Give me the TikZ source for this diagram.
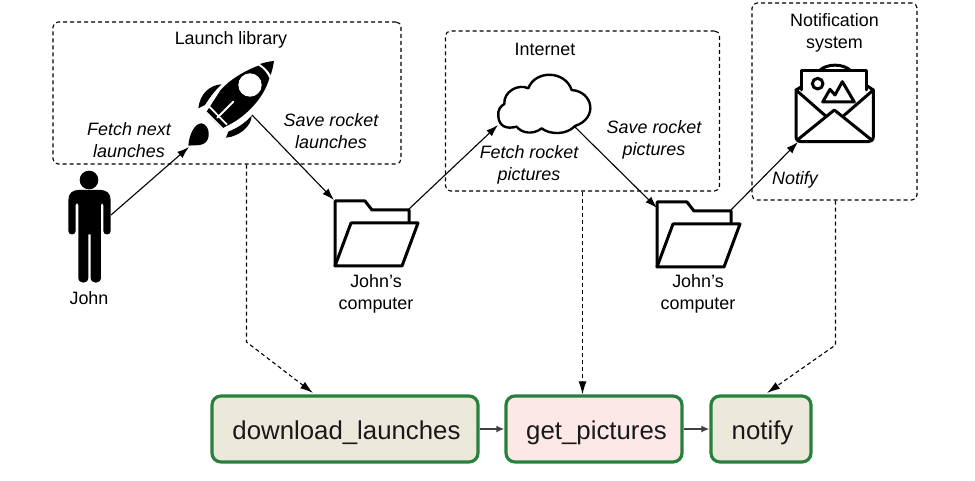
\documentclass[tikz,border=0pt]{standalone}
\usepackage{fontspec}
\setmainfont{Liberation Sans}
\usetikzlibrary{arrows.meta}
\tikzset{
  x=1pt,y=-1pt,
  lbl/.style={align=center,inner sep=0pt,font=\fontsize{17.9}{22}\selectfont},
  ilbl/.style={lbl,font=\fontsize{17.9}{22}\selectfont\itshape},
  group/.style={draw=black,line width=1.1pt,dash pattern=on 4pt off 3pt,rounded corners=5pt,inner sep=0pt},
  task/.style={draw=taskgreen,line width=3.2pt,rounded corners=9pt,inner sep=0pt,text=black!90,text height=24pt,text depth=3pt,minimum height=66pt,font=\fontsize{25.8}{28}\selectfont},
  flow/.style={draw=black,line width=1.1pt,-{Latex[length=12pt,width=8pt]}},
  depend/.style={draw=black,line width=1.1pt,dash pattern=on 4pt off 3pt,-{Latex[length=13pt,width=8pt]}},
  next/.style={draw=black!75,line width=2pt,-{Latex[length=8pt,width=7pt]}},
  icon/.style={draw=black,line width=3pt,line join=round,line cap=round},
  folderline/.style={draw=black,line width=3pt,line join=round,fill=white},
  zoomed/.style={x=0.3333pt,y=-0.3333pt},
}
\definecolor{taskgreen}{HTML}{27803B}
\definecolor{tan}{HTML}{EDE8DC}
\definecolor{pinkish}{HTML}{FDE8E8}
\newcommand{\folderic}[2]{%
  \begin{scope}[shift={(#1,#2)}]
    \draw[folderline] (0,67) -- (0,2) -- (30,2) -- (37,11) -- (74,11) -- (74,30);
    \draw[folderline] (0,67) -- (16,24) -- (83,24) -- (67,67) -- cycle;
  \end{scope}}
\begin{document}
\begin{tikzpicture}
\useasboundingbox (0,0) rectangle (975,481);
% group boxes
\node[group,minimum width=348pt,minimum height=142pt] (lib) at (227,93) {};
\node[group,minimum width=274pt,minimum height=160pt] (net) at (582.5,111) {};
\node[group,minimum width=165pt,minimum height=197pt] (sys) at (834.5,101.5) {};
% person
\begin{scope}[shift={(60,165)},zoomed]
  \fill (87,45) circle[radius=28];
  \fill (25,105) .. controls (25,85) and (38,75) .. (55,75) -- (122,75) .. controls (140,75) and (152,85) .. (152,105)
    -- (152,198) .. controls (152,212) and (130,212) .. (130,198) -- (130,120) .. controls (130,112) and (123,112) .. (123,120)
    -- (123,338) .. controls (123,358) and (92,358) .. (92,338) -- (92,208) -- (85,208) -- (85,338) .. controls (85,358) and (55,358) .. (55,338)
    -- (55,120) .. controls (55,112) and (47,112) .. (47,120) -- (47,198) .. controls (47,212) and (25,212) .. (25,198) -- cycle;
\end{scope}
% rocket
\begin{scope}[shift={(180,50)},zoomed]
  \fill (282,33) .. controls (268,34) and (252,38) .. (240,42) .. controls (255,52) and (265,62) .. (272,75) .. controls (277,60) and (280,47) .. (282,33) -- cycle;
  \fill (235,47) .. controls (195,62) and (150,88) .. (122,120) -- (78,188) -- (125,236) -- (140,228) .. controls (190,205) and (250,150) .. (268,85) .. controls (262,70) and (250,55) .. (235,47) -- cycle;
  \fill[white] (210,105) circle[radius=35];
  \draw[white,line width=2pt,line cap=round] (160,155) -- (112,203);
  \draw[white,line width=1.7pt] (88,170) -- (141,224);
  \draw[white,line width=1.7pt] (78,186) -- (128,236);
  \draw[white,line width=1.7pt] (120,115) -- (83,170);
  \fill (125,103) .. controls (90,105) and (60,130) .. (55,175) -- (75,165) .. controls (85,150) and (100,125) .. (125,103) -- cycle;
  \fill (215,197) .. controls (215,230) and (175,260) .. (138,263) -- (145,245) .. controls (170,235) and (195,220) .. (215,197) -- cycle;
  \fill (25,287) .. controls (28,250) and (45,220) .. (65,220) .. controls (90,225) and (95,270) .. (70,282) .. controls (55,288) and (40,285) .. (25,287) -- cycle;
\end{scope}
% cloud
\begin{scope}[shift={(400,20)},zoomed]
  \draw[icon,line width=2.4pt,fill=white] (295,290) .. controls (292,270) and (302,258) .. (313,252)
    .. controls (310,215) and (355,190) .. (385,205)
    .. controls (405,150) and (495,150) .. (515,210)
    .. controls (580,215) and (595,295) .. (525,318)
    .. controls (500,345) and (450,345) .. (425,325)
    .. controls (400,345) and (365,340) .. (350,320)
    .. controls (320,328) and (298,320) .. (295,290) -- cycle;
\end{scope}
% envelope
\begin{scope}[shift={(785,55)},zoomed]
    \draw[icon] (103,47) .. controls (125,25) and (175,25) .. (197,47);
    \draw[icon] (50,105) -- (50,47) -- (245,47) -- (245,105);
    \draw[icon] (98,86) circle[radius=16];
    \draw[icon] (113,141) -- (135,103) -- (150,120) -- (172,80) -- (208,141) -- cycle;
    \draw[icon] (50,95) -- (33,105) -- (33,245) .. controls (33,255) and (40,260) .. (50,260) -- (250,260) .. controls (258,260) and (265,255) .. (265,245) -- (265,105) -- (245,92);
    \draw[icon] (33,105) -- (122,183);
    \draw[icon] (265,105) -- (175,183);
    \draw[icon] (37,255) -- (148,165) -- (260,255);
\end{scope}
% folders
\folderic{335}{199}
\folderic{657}{200}
% named ends
\coordinate (johnR) at (111,215);
\coordinate (rocketIn) at (189,147);
\coordinate (rocketOut) at (252,115);
\coordinate (folderAin) at (334,200);
\coordinate (folderAout) at (409,209);
\coordinate (cloudIn) at (498,125);
\coordinate (cloudOut) at (575,127);
\coordinate (folderBin) at (657,208);
\coordinate (folderBout) at (731,210);
\coordinate (mailIn) at (798,142);
\coordinate (libBend) at (246.5,342);
\coordinate (sysBend) at (835.5,345);
% tasks
\node[task,fill=tan,minimum width=266pt] (dl) at (345,429) {\hspace*{3pt}download\_launches};
\node[task,fill=pinkish,minimum width=176pt] (gp) at (594,429) {\hspace*{5pt}get\_pictures};
\node[task,fill=tan,minimum width=100pt] (nt) at (761,429) {\hspace*{3pt}notify};
\coordinate (dlIn) at (313,393);
\coordinate (ntIn) at (767,393);
% labels
\node[lbl] (tlib) at (231,39.5) {Launch library};
\node[lbl] (tnet) at (545,49.5) {Internet};
\node[lbl] (tsys) at (834.5,32.5) {Notification\\system};
\node[lbl] (tjohn) at (89,298) {John};
\node[lbl] (tca) at (376,294) {John’s\\computer};
\node[lbl] (tcb) at (698,294) {John’s\\computer};
\node[ilbl] (f1) at (129,140) {Fetch next\\launches};
\node[ilbl] (s1) at (331,131) {Save rocket\\launches};
\node[ilbl] (f2) at (529,165) {Fetch rocket\\pictures};
\node[ilbl] (s2) at (654,140) {Save rocket\\pictures};
\node[ilbl] (nf) at (795,180) {Notify};
% connectors
\draw[flow] (johnR) -- (rocketIn);
\draw[flow] (rocketOut) -- (folderAin);
\draw[flow] (folderAout) -- (cloudIn);
\draw[flow] (cloudOut) -- (folderBin);
\draw[flow] (folderBout) -- (mailIn);
\draw[depend] (lib.south -| libBend) -- (libBend) -- (dlIn);
\draw[depend] (net.south) -- (gp.north -| net.south);
\draw[depend] (sys.south -| sysBend) -- (sysBend) -- (ntIn);
\draw[next] (dl.east) -- (gp.west);
\draw[next] (gp.east) -- (nt.west);
\end{tikzpicture}
\end{document}
